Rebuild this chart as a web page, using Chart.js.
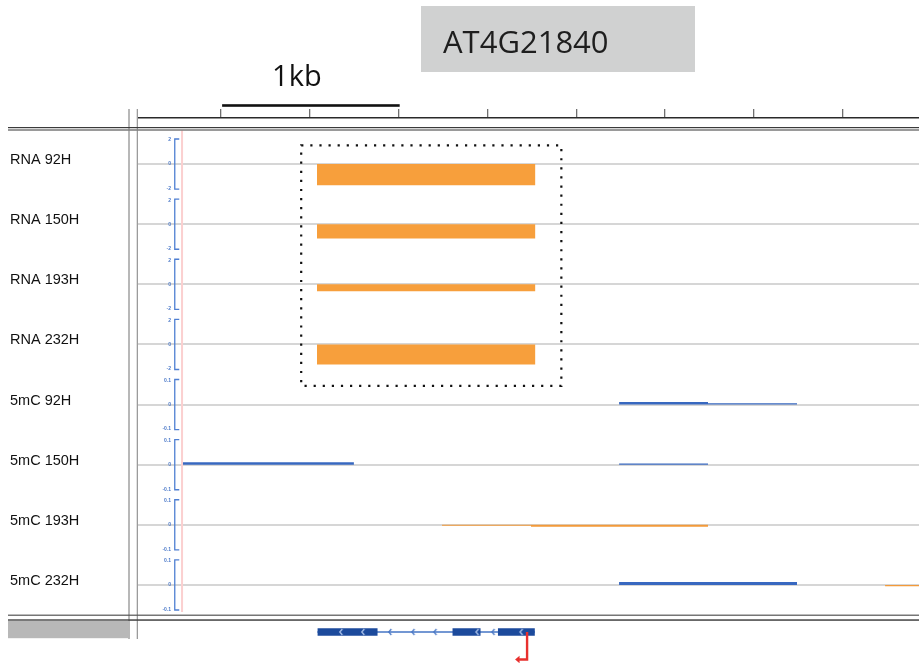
<!DOCTYPE html>
<html>
<head>
<meta charset="utf-8">
<title>AT4G21840</title>
<script src="https://cdn.jsdelivr.net/npm/chart.js@4.4.1/dist/chart.umd.min.js"></script>
<style>
  html, body { margin: 0; padding: 0; background: #ffffff; }
  #wrap { position: relative; width: 919px; height: 663px; }
</style>
</head>
<body>
<div id="wrap"><canvas id="browser" width="919" height="663"></canvas></div>
<script>
// ---- data (genomic positions in bp, relative to the ruler origin) ----
const geneName = 'AT4G21840';
const trackNames = ['RNA 92H', 'RNA 150H', 'RNA 193H', 'RNA 232H',
                    '5mC 92H', '5mC 150H', '5mC 193H', '5mC 232H'];
const viewStart = -468;
const viewEnd = 3930;
const rulerTicks = [0, 500, 1000, 1500, 2000, 2500, 3000, 3500];
const scaleBar = [0, 1000];
const scaleBarLabel = '1kb';
const markerPos = -220;

// RNA change over the gene body
const rnaSpan = [540, 1770];
const rnaValues = [-1.7, -1.15, -0.55, -1.6];

// methylation change per bin
const mcEdges = [-215, 748, 1244, 1745, 2241, 2742, 3243, 3739, 4240];
const mc92H  = [null,  null, null,   null,   0.010, 0.005, null, null];
const mc150H = [0.010, null, null,   null,   0.005, null,  null, null];
const mc193H = [null,  null, -0.004, -0.008, -0.008, null, null, null];
const mc232H = [null,  null, null,   null,   0.012, 0.012, null, -0.005];

// gene model (minus strand)
const exons = [[542, 882], [1302, 1462], [1558, 1767]];
const exonChevrons = [676, 800, 1443, 1691];
const intronChevrons = [952, 1082, 1206, 1533];
const tssPos = 1723;

// axis ranges: bracket limits of each track type
const rnaRange = 2;
const mcRange = 0.1;
const rnaTicks = ['2', '0', '-2'];
const mcTicks = ['0.1', '0', '-0.1'];

// ---- styling ----
const BLUE = '#3868c0';
const ORANGE = '#f79f3c';
const MC_ORANGE = '#f39a3a';
const AXIS_BLUE = '#4f7fd2';
const EXON_BLUE = '#1c4a9c';
const INTRON_BLUE = '#4574c4';
const TRACK_WEIGHT = 60.125;
const EXON_HALF = 3.8;

function segments(edges, values, keep) {
  const pts = [];
  let open = false;
  values.forEach((v, i) => {
    if (v === null || !keep(v)) {
      if (open) { pts.push({ x: edges[i], y: null }); open = false; }
      return;
    }
    pts.push({ x: edges[i], y: v }, { x: edges[i + 1], y: v });
    open = true;
  });
  return pts;
}

function fillSet(axis, data, color, fill, order) {
  return {
    type: 'line', xAxisID: 'x', yAxisID: axis, data,
    fill: fill || 'origin', backgroundColor: color,
    borderColor: 'rgba(0,0,0,0)', borderWidth: 0,
    pointRadius: 0, tension: 0, spanGaps: false, order: order || 5
  };
}

function chevron(color) {
  const c = document.createElement('canvas');
  c.width = 6; c.height = 8;
  const g = c.getContext('2d');
  g.strokeStyle = color; g.lineWidth = 1.2;
  g.beginPath(); g.moveTo(4.2, 1); g.lineTo(1.6, 4); g.lineTo(4.2, 7); g.stroke();
  return c;
}

function trackAxis(i, range) {
  return {
    type: 'linear', position: 'left', stack: 'rows', stackWeight: TRACK_WEIGHT, weight: 99 - i,
    min: -range * 26 / 25, max: range * 34 / 25,
    afterBuildTicks: s => { s.ticks = [{ value: 0 }]; },
    ticks: { display: false },
    grid: { color: '#d6d6d6', lineWidth: 2, drawTicks: false },
    border: { display: false }
  };
}

// ---- datasets ----
const datasets = [];
rnaValues.forEach((v, i) => {
  datasets.push(fillSet('y' + i, [{ x: rnaSpan[0], y: v }, { x: rnaSpan[1], y: v }], ORANGE));
});
[mc92H, mc150H, mc193H, mc232H].forEach((vals, j) => {
  const axis = 'y' + (4 + j);
  datasets.push(fillSet(axis, segments(mcEdges, vals, v => v > 0), BLUE));
  datasets.push(fillSet(axis, segments(mcEdges, vals, v => v < 0), MC_ORANGE));
});
datasets.push({
  type: 'line', xAxisID: 'x', yAxisID: 'yGene',
  data: [{ x: exons[0][0], y: 0 }, { x: exons[exons.length - 1][1], y: 0 }],
  borderColor: INTRON_BLUE, borderWidth: 1.6, fill: false, pointRadius: 0, order: 4
});
const exonPts = [];
exons.forEach(([s, e]) => exonPts.push({ x: s, y: EXON_HALF }, { x: e, y: EXON_HALF }, { x: e, y: null }));
datasets.push(fillSet('yGene', exonPts, EXON_BLUE, { value: -EXON_HALF }, 3));
datasets.push({
  type: 'line', xAxisID: 'x', yAxisID: 'yGene', showLine: false,
  data: exonChevrons.map(x => ({ x, y: 0 })),
  pointStyle: chevron('#b3c8ee'), pointRadius: 4, order: 1
});
datasets.push({
  type: 'line', xAxisID: 'x', yAxisID: 'yGene', showLine: false,
  data: intronChevrons.map(x => ({ x, y: 0 })),
  pointStyle: chevron(INTRON_BLUE), pointRadius: 4, order: 2
});

// ---- scales ----
const scales = {
  x: {
    type: 'linear', position: 'top', min: viewStart, max: viewEnd,
    afterBuildTicks: s => { s.ticks = rulerTicks.map(v => ({ value: v })); },
    ticks: { display: false },
    grid: { drawOnChartArea: false, drawTicks: true, tickLength: 9, color: '#707070', lineWidth: 1.3 },
    border: { display: true, color: '#2a2a2a', width: 1.6 }
  },
  ySpacer: { type: 'linear', position: 'left', stack: 'rows', stackWeight: 12, weight: 100, display: false, min: 0, max: 1 }
};
trackNames.forEach((name, i) => { scales['y' + i] = trackAxis(i, i < 4 ? rnaRange : mcRange); });
scales.ySep = { type: 'linear', position: 'left', stack: 'rows', stackWeight: 9, weight: 91, display: false, min: 0, max: 1 };
scales.yGene = { type: 'linear', position: 'left', stack: 'rows', stackWeight: 21, weight: 90, display: false, min: -9, max: 12 };

// ---- frame, labels, brackets and annotations ----
const decor = {
  id: 'decor',
  beforeDatasetsDraw(chart) {
    const { ctx, scales: s } = chart;
    const x = s.x.getPixelForValue(markerPos);
    ctx.save();
    ctx.strokeStyle = '#fbd0d0';
    ctx.lineWidth = 2;
    ctx.beginPath();
    ctx.moveTo(x, s.y0.top);
    ctx.lineTo(x, s.y7.bottom + 1);
    ctx.stroke();
    ctx.restore();
  },
  afterDraw(chart) {
    const { ctx, chartArea: ca, scales: s, width } = chart;
    const px = v => s.x.getPixelForValue(v);
    ctx.save();

    // left panel frame
    const frameTop = ca.top - 9;
    const frameBottom = s.yGene.bottom - 2;
    ctx.fillStyle = '#9b9b9b';
    ctx.fillRect(ca.left - 9.7, frameTop, 1.4, frameBottom - frameTop);
    ctx.fillRect(ca.left - 1.3, frameTop, 1.3, frameBottom - frameTop);

    // header / footer separators
    const tTop = s.y0.top;
    ctx.fillStyle = '#3b3b3b';
    ctx.fillRect(8, tTop - 3, width - 8, 1.2);
    ctx.fillStyle = '#828282';
    ctx.fillRect(8, tTop - 0.8, width - 8, 1.6);
    const gTop = s.yGene.top;
    ctx.fillStyle = '#555555';
    ctx.fillRect(8, gTop - 5.4, width - 8, 1.2);
    ctx.fillStyle = '#444444';
    ctx.fillRect(8, gTop - 0.7, width - 8, 1.5);
    ctx.fillStyle = '#b8b8b8';
    ctx.fillRect(8, gTop + 0.8, ca.left - 9.7 - 8, 17.4);

    // track names
    ctx.fillStyle = '#111111';
    ctx.font = '14.5px "Liberation Sans", Arial, sans-serif';
    ctx.textBaseline = 'middle';
    ctx.textAlign = 'left';
    trackNames.forEach((name, i) => {
      const y = s['y' + i].getPixelForValue(0) - 4;
      ctx.fillText(name, 10, y);
    });

    // data-range brackets
    const bx = px(-261);
    trackNames.forEach((name, i) => {
      const sc = s['y' + i];
      const r = i < 4 ? rnaRange : mcRange;
      const labels = i < 4 ? rnaTicks : mcTicks;
      const yTop = sc.getPixelForValue(r), yMid = sc.getPixelForValue(0), yBot = sc.getPixelForValue(-r);
      ctx.strokeStyle = AXIS_BLUE;
      ctx.lineWidth = 1.3;
      ctx.beginPath();
      ctx.moveTo(bx + 4.5, yTop);
      ctx.lineTo(bx, yTop);
      ctx.lineTo(bx, yBot);
      ctx.lineTo(bx + 4.5, yBot);
      ctx.stroke();
      ctx.fillStyle = '#4a78c8';
      ctx.font = 'bold 5px "Liberation Sans", Arial, sans-serif';
      ctx.textAlign = 'right';
      ctx.textBaseline = 'middle';
      ctx.fillText(labels[0], bx - 3.7, yTop + 1);
      ctx.fillText(labels[1], bx - 3.7, yMid);
      ctx.fillText(labels[2], bx - 3.7, yBot - 0.5);
    });

    // dotted highlight around the RNA tracks
    const dx0 = px(451), dx1 = px(1916);
    const dy0 = s.y0.getPixelForValue(1.5), dy1 = s.y3.getPixelForValue(-3.3);
    ctx.strokeStyle = '#111111';
    ctx.lineWidth = 2.2;
    ctx.setLineDash([2.2, 6.9]);
    ctx.strokeRect(dx0, dy0, dx1 - dx0, dy1 - dy0);
    ctx.setLineDash([]);

    // gene title
    ctx.fillStyle = '#d0d1d1';
    ctx.fillRect(421, 6, 274, 66);
    ctx.fillStyle = '#1e1e1e';
    ctx.font = '31px "Open Sans", sans-serif';
    ctx.textAlign = 'left';
    ctx.textBaseline = 'alphabetic';
    ctx.fillText(geneName, 443, 52.5);

    // scale bar
    const sb0 = px(scaleBar[0]), sb1 = px(scaleBar[1]);
    ctx.fillStyle = '#111111';
    ctx.fillRect(sb0 + 1, 104.2, sb1 - sb0, 2.6);
    ctx.font = '29px "Open Sans", sans-serif';
    ctx.fillText(scaleBarLabel, sb0 + 51, 86);

    // transcription start arrow
    const tx = px(tssPos);
    const ty0 = s.yGene.getPixelForValue(0);
    const ty1 = ty0 + 27.5;
    ctx.strokeStyle = '#e8302e';
    ctx.fillStyle = '#e8302e';
    ctx.lineWidth = 2.4;
    ctx.beginPath();
    ctx.moveTo(tx, ty0);
    ctx.lineTo(tx, ty1);
    ctx.lineTo(tx - 8, ty1);
    ctx.stroke();
    ctx.beginPath();
    ctx.moveTo(tx - 12, ty1);
    ctx.lineTo(tx - 7.5, ty1 - 3.8);
    ctx.lineTo(tx - 7.5, ty1 + 3.8);
    ctx.closePath();
    ctx.fill();

    ctx.restore();
  }
};

new Chart(document.getElementById('browser'), {
  type: 'line',
  data: { datasets },
  options: {
    responsive: false,
    animation: false,
    events: [],
    layout: { autoPadding: false, padding: { top: 109, left: 138, right: 0, bottom: 22 } },
    plugins: { legend: { display: false }, tooltip: { enabled: false }, title: { display: false } },
    scales
  },
  plugins: [decor]
});
</script>
</body>
</html>
